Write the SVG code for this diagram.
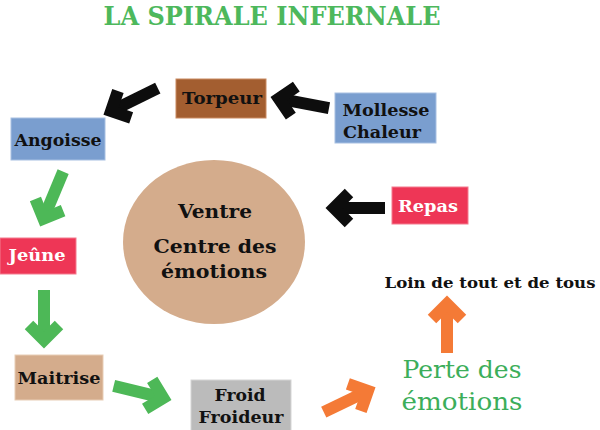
<svg xmlns="http://www.w3.org/2000/svg" width="600" height="430" viewBox="0 0 600 430">
<style>
text{font-family:"DejaVu Serif","Liberation Serif",serif;font-weight:bold;text-anchor:middle;fill:#111}
.w{fill:#fff}
.box{stroke-width:1}
.arr line,.arr polyline{fill:none;stroke-width:12;stroke-linejoin:miter;stroke-miterlimit:4;stroke-linecap:butt}
.k line,.k polyline{stroke:#0d0d0d}
.g line,.g polyline{stroke:#4DB857}
.o line,.o polyline{stroke:#F47A36}
</style>
<rect width="600" height="430" fill="#fff"/>
<text x="272" y="25" font-size="26" style="fill:#4DB85C" textLength="337" lengthAdjust="spacingAndGlyphs">LA SPIRALE INFERNALE</text>

<g id="torpeur"><rect class="box" x="176" y="79" width="90" height="39" fill="#A35E30" stroke="#C98A60"/><text x="222" y="104" font-size="17" textLength="80" lengthAdjust="spacingAndGlyphs">Torpeur</text></g>
<g id="mollesse"><rect class="box" x="335" y="93" width="101" height="50" fill="#7A9ECF" stroke="#A7C0E2"/><text x="386" y="116" font-size="17" textLength="87" lengthAdjust="spacingAndGlyphs">Mollesse</text><text x="382" y="138" font-size="17" textLength="78" lengthAdjust="spacingAndGlyphs">Chaleur</text></g>
<g id="angoisse"><rect class="box" x="11" y="118" width="94" height="42" fill="#7A9ECF" stroke="#A7C0E2"/><text x="58" y="146" font-size="17" textLength="87" lengthAdjust="spacingAndGlyphs">Angoisse</text></g>
<g id="ventre"><ellipse cx="214" cy="242" rx="91" ry="82" fill="#D4AC8C"/><text x="215" y="218" font-size="18" textLength="74" lengthAdjust="spacingAndGlyphs">Ventre</text><text x="215" y="253" font-size="19" textLength="123" lengthAdjust="spacingAndGlyphs">Centre des</text><text x="214" y="278" font-size="19" textLength="106" lengthAdjust="spacingAndGlyphs">émotions</text></g>
<g id="repas"><rect class="box" x="392" y="187" width="76" height="37" fill="#EE3656" stroke="#F47A8E"/><text class="w" x="428" y="212" font-size="16" textLength="60" lengthAdjust="spacingAndGlyphs">Repas</text></g>
<g id="jeune"><rect class="box" x="0" y="238" width="76" height="36" fill="#EE3656" stroke="#F47A8E"/><text class="w" x="37" y="261" font-size="16" textLength="57" lengthAdjust="spacingAndGlyphs">Jeûne</text></g>
<g id="loin"><text x="490" y="288" font-size="15" textLength="211" lengthAdjust="spacingAndGlyphs">Loin de tout et de tous</text></g>
<g id="maitrise"><rect class="box" x="15" y="355" width="88" height="45" fill="#D4AC8C" stroke="#E8CDB5"/><text x="59" y="384" font-size="17" textLength="83" lengthAdjust="spacingAndGlyphs">Maitrise</text></g>
<g id="froid"><rect class="box" x="191" y="380" width="100" height="52" fill="#BBBBBB" stroke="#D5D5D5"/><text x="240" y="401" font-size="17" textLength="51" lengthAdjust="spacingAndGlyphs">Froid</text><text x="241" y="423" font-size="17" textLength="85" lengthAdjust="spacingAndGlyphs">Froideur</text></g>
<g id="perte"><text x="462" y="378" font-size="25" style="font-weight:normal;fill:#3CAE5A" textLength="119" lengthAdjust="spacingAndGlyphs">Perte des</text><text x="462" y="410" font-size="25" style="font-weight:normal;fill:#3CAE5A" textLength="121" lengthAdjust="spacingAndGlyphs">émotions</text></g>

<g id="connectors" class="arr">
<g class="k" transform="translate(103,115) rotate(153.9)"><line x1="-61" y1="0" x2="-9" y2="0"/><polyline points="-24,-15 -9,0 -24,15"/></g>
<g class="k" transform="translate(270,97) rotate(190.6)"><line x1="-60" y1="0" x2="-9" y2="0"/><polyline points="-24,-15 -9,0 -24,15"/></g>
<g class="k" transform="translate(325,208) rotate(180)"><line x1="-60" y1="0" x2="-9" y2="0"/><polyline points="-24,-15 -9,0 -24,15"/></g>
<g class="g" transform="translate(40,227) rotate(112.7)"><line x1="-60" y1="0" x2="-9" y2="0"/><polyline points="-24,-15 -9,0 -24,15"/></g>
<g class="g" transform="translate(44,349) rotate(90)"><line x1="-59" y1="0" x2="-9" y2="0"/><polyline points="-24,-15 -9,0 -24,15"/></g>
<g class="g" transform="translate(172,400) rotate(13.6)"><line x1="-60" y1="0" x2="-9" y2="0"/><polyline points="-24,-15 -9,0 -24,15"/></g>
<g class="o" transform="translate(376,387) rotate(-25.7)"><line x1="-58" y1="0" x2="-9" y2="0"/><polyline points="-24,-15 -9,0 -24,15"/></g>
<g class="o" transform="translate(447,295) rotate(-90)"><line x1="-58" y1="0" x2="-9" y2="0"/><polyline points="-24,-15 -9,0 -24,15"/></g>
</g>
</svg>
